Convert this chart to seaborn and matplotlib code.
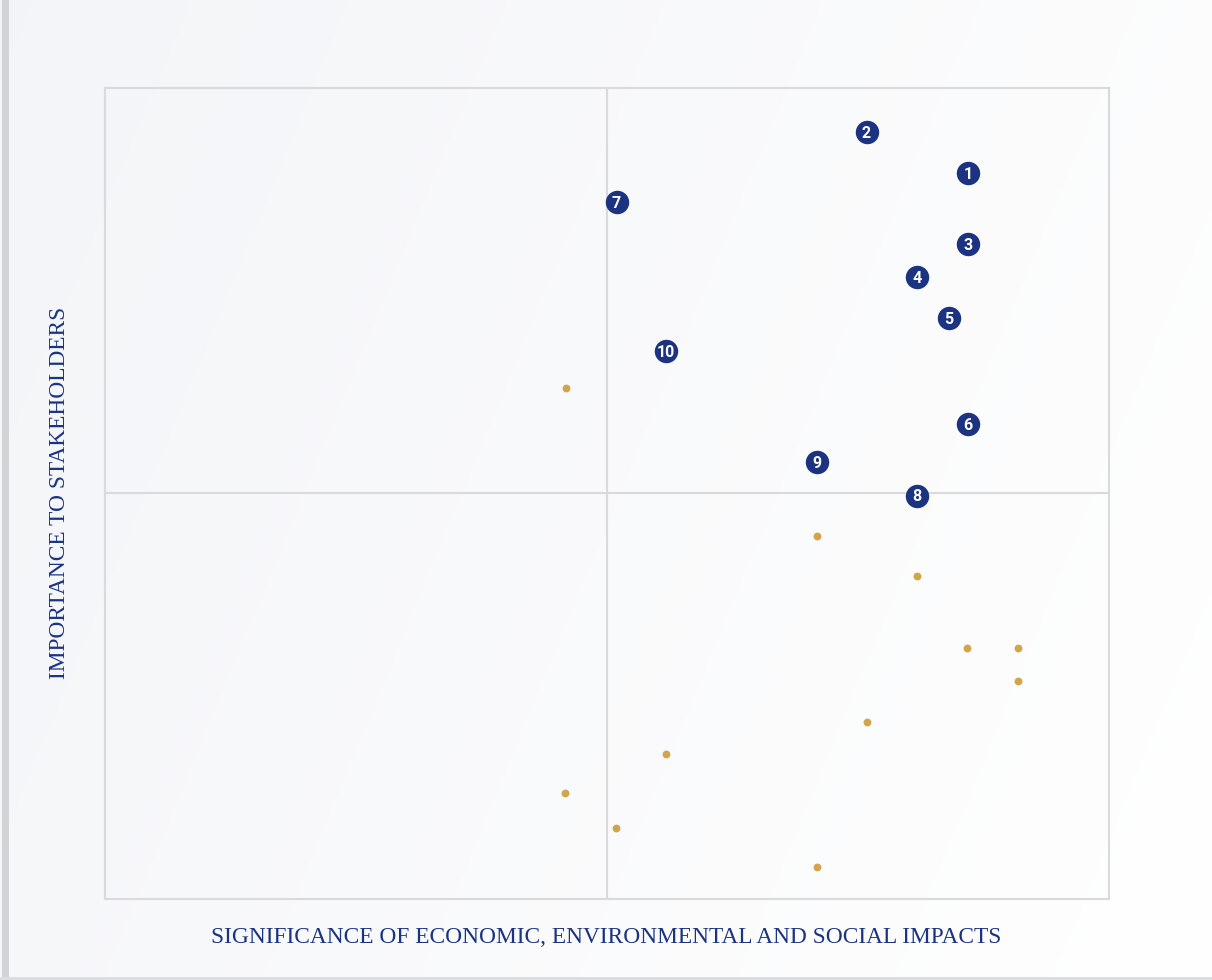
import numpy as np
import pandas as pd
import matplotlib
matplotlib.use("Agg")
import matplotlib.pyplot as plt
import seaborn as sns

# ---- data ----
topic_labels = ["1", "2", "3", "4", "5", "6", "7", "8", "9", "10"]
topic_x = [17.19, 15.17, 17.19, 16.18, 16.81, 17.19, 10.19, 16.18, 14.18, 11.18]
topic_y = [17.90, 18.92, 16.15, 15.34, 14.33, 11.71, 17.19, 9.95, 10.78, 13.51]

minor_x = [9.18, 14.18, 16.18, 17.17, 18.19, 18.19, 15.18, 11.18, 9.16, 10.18, 14.18]
minor_y = [12.60, 8.95, 7.97, 6.19, 6.19, 5.38, 4.37, 3.58, 2.61, 1.76, 0.79]

x_title = "SIGNIFICANCE OF ECONOMIC, ENVIRONMENTAL AND SOCIAL IMPACTS"
y_title = "IMPORTANCE TO STAKEHOLDERS"

NAVY = "#1b3381"
GOLD = "#d3a54a"
GRID = "#dadadc"

sns.set_theme(style="white")
plt.rcParams["font.family"] = ["Liberation Serif", "DejaVu Serif"]

W, H = 1212, 980
fig = plt.figure(figsize=(W / 100, H / 100), dpi=100)

# background gradient
bg = fig.add_axes([0, 0, 1, 1], zorder=-10)
gx = np.linspace(0, 1, 400)
gy = np.linspace(0, 1, 320)
GX, GY = np.meshgrid(gx, gy)
t = np.clip(0.75 * GX + 0.25 * (1 - GY), 0, 1)
c0 = np.array([0.955, 0.960, 0.972])
c1 = np.array([1.0, 1.0, 1.0])
img = c0[None, None, :] * (1 - t[..., None]) + c1[None, None, :] * t[..., None]
bg.imshow(img, extent=[0, 1, 0, 1], aspect="auto", origin="lower")
bg.set_xlim(0, 1)
bg.set_ylim(0, 1)
bg.axis("off")
# left and bottom grey edges
bg.add_patch(plt.Rectangle((2 / W, 0), 7 / W, 1, color="#d2d3d6", lw=0))
bg.add_patch(plt.Rectangle((0, 0), 1, 3 / H, color="#dcdde0", lw=0))

ax = fig.add_axes([105 / W, (H - 899) / H, (1109 - 105) / W, (899 - 88) / H])
ax.set_facecolor("none")
ax.set_xlim(0, 20)
ax.set_ylim(0, 20)

ax.axvline(10, color=GRID, lw=1.5, zorder=1)
ax.axhline(10, color=GRID, lw=1.5, zorder=1)
for sp in ax.spines.values():
    sp.set_color(GRID)
    sp.set_linewidth(1.5)
    sp.set_visible(True)

minor_df = pd.DataFrame({"x": minor_x, "y": minor_y})
topic_df = pd.DataFrame({"x": topic_x, "y": topic_y, "label": topic_labels})

sns.scatterplot(data=minor_df, x="x", y="y", ax=ax, color=GOLD, s=32,
                linewidth=0, zorder=3)
sns.scatterplot(data=topic_df, x="x", y="y", ax=ax, color=NAVY, s=285,
                linewidth=0, zorder=4)
for _, r in topic_df.iterrows():
    ax.text(r["x"], r["y"] - 0.03, r["label"], ha="center", va="center",
            color="white", fontsize=11.5, fontweight="bold",
            family=["Roboto", "DejaVu Sans"], zorder=5)

ax.set_xticks([])
ax.set_yticks([])
ax.set_xlabel("")
ax.set_ylabel("")

fig.text((213 + 1000) / 2 / W, 1 - 937 / H, x_title, ha="center", va="center",
         color=NAVY, fontsize=16.8)
fig.text(60 / W, 1 - 493 / H, y_title, ha="center", va="center",
         rotation=90, color=NAVY, fontsize=16.8)

fig.savefig("out.png", dpi=100)
